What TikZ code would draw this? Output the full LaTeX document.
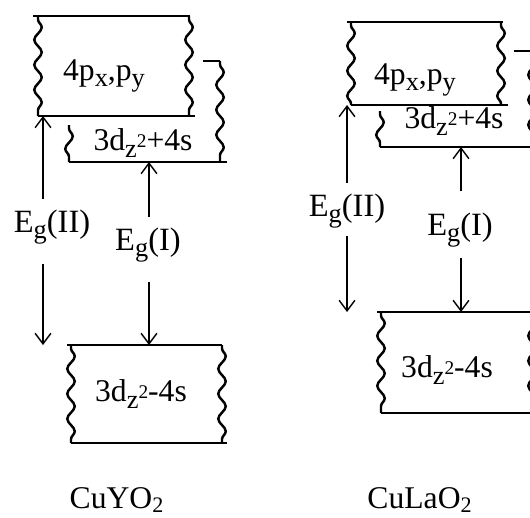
\documentclass[tikz,border=0pt]{standalone}
\usepackage{fontspec}
\setmainfont{Liberation Serif}
\usetikzlibrary{decorations.pathmorphing,arrows.meta}
\newcommand{\lowtext}[1]{\raisebox{-0.45ex}{\fontsize{15}{17}\selectfont #1}}
\newcommand{\zsq}{\lowtext{z\raisebox{0.8ex}{\fontsize{11}{12}\selectfont 2}}}
\begin{document}
\begin{tikzpicture}[x=0.02cm, y=-0.02cm]
        \tikzstyle{edge}=[line width=1.4pt]
        \tikzstyle{wavy}=[line width=1.4pt, decorate, decoration={snake, segment length=0.5cm, amplitude=0.075cm, pre length=2pt}]
        \tikzstyle{gaparrow}=[line width=0.8pt, -{Straight Barb[length=6pt,width=9pt]}]
        \tikzstyle{txt}=[font=\fontsize{18}{21}\selectfont, inner sep=0pt]
        \tikzstyle{gtxt}=[font=\fontsize{18.5}{22}\selectfont, inner sep=0pt]
        \clip (0,0) rectangle (530,517);
        \begin{scope}
            \draw[edge] (33,16) -- (190,16);
            \draw[wavy] (38,16) -- (38,116);
            \draw[wavy] (189,16) -- (189,116);
            \draw[edge] (38,116) -- (195,116);
            \draw[edge] (203,61) -- (220,61);
            \draw[wavy] (220,61) -- (220,162);
            \draw[edge] (69,162) -- (227,162);
            \draw[wavy] (69,125) -- (69,162);
            \draw[edge] (67,345) -- (222,345);
            \draw[wavy] (71,345) -- (71,443);
            \draw[wavy] (222,345) -- (222,443);
            \draw[edge] (71,443) -- (227,443);
            \node[txt] (yP) at (104,76) {4p\lowtext{x},p\lowtext{y}};
            \node[txt] (yDp) at (143,143) {3d\zsq+4s};
            \node[txt] (yDm) at (141,394) {3d\zsq-4s};
            \node[gtxt] (yGII) at (52,227) {E\lowtext{g}(II)};
            \node[gtxt] (yGI) at (148,245) {E\lowtext{g}(I)};
            \node[txt] (yName) at (117,500) {CuYO\textsubscript{2}};
            \coordinate (yIIup) at (43,116);
            \coordinate (yIIdn) at (43,345);
            \coordinate (yIup) at (149,162);
            \coordinate (yIdn) at (149,345);
        \end{scope}
        \draw[gaparrow, shorten <=6pt] (yGII.north -| yIIup) -- (yIIup);
        \draw[gaparrow, shorten <=11pt] (yGII.south -| yIIdn) -- (yIIdn);
        \draw[gaparrow, shorten <=6pt] (yGI.north -| yIup) -- (yIup);
        \draw[gaparrow, shorten <=11pt] (yGI.south -| yIdn) -- (yIdn);
        \begin{scope}
            \draw[edge] (347,22) -- (503,22);
            \draw[wavy] (351,22) -- (351,105);
            \draw[wavy] (501,22) -- (501,105);
            \draw[edge] (351,105) -- (508,105);
            \draw[edge] (514,51) -- (532,51);
            \draw[wavy] (532,51) -- (532,147);
            \draw[edge] (380,147) -- (535,147);
            \draw[wavy] (380,111) -- (380,147);
            \draw[edge] (377,312) -- (540,312);
            \draw[wavy] (381,312) -- (381,413);
            \draw[wavy] (532,312) -- (532,413);
            \draw[edge] (381,413) -- (540,413);
            \node[txt] (lP) at (415,80) {4p\lowtext{x},p\lowtext{y}};
            \node[txt] (lDp) at (454,121) {3d\zsq+4s};
            \node[txt] (lDm) at (447,370) {3d\zsq-4s};
            \node[gtxt] (lGII) at (347,211) {E\lowtext{g}(II)};
            \node[gtxt] (lGI) at (460,230) {E\lowtext{g}(I)};
            \node[txt] (lName) at (420,500) {CuLaO\textsubscript{2}};
            \coordinate (lIIup) at (347,105);
            \coordinate (lIIdn) at (347,312);
            \coordinate (lIup) at (461,147);
            \coordinate (lIdn) at (461,312);
        \end{scope}
        \draw[gaparrow, shorten <=6pt] (lGII.north -| lIIup) -- (lIIup);
        \draw[gaparrow, shorten <=4pt] (lGII.south -| lIIdn) -- (lIIdn);
        \draw[gaparrow, shorten <=12pt] (lGI.north -| lIup) -- (lIup);
        \draw[gaparrow, shorten <=6pt] (lGI.south -| lIdn) -- (lIdn);
    \end{tikzpicture}
\end{document}
